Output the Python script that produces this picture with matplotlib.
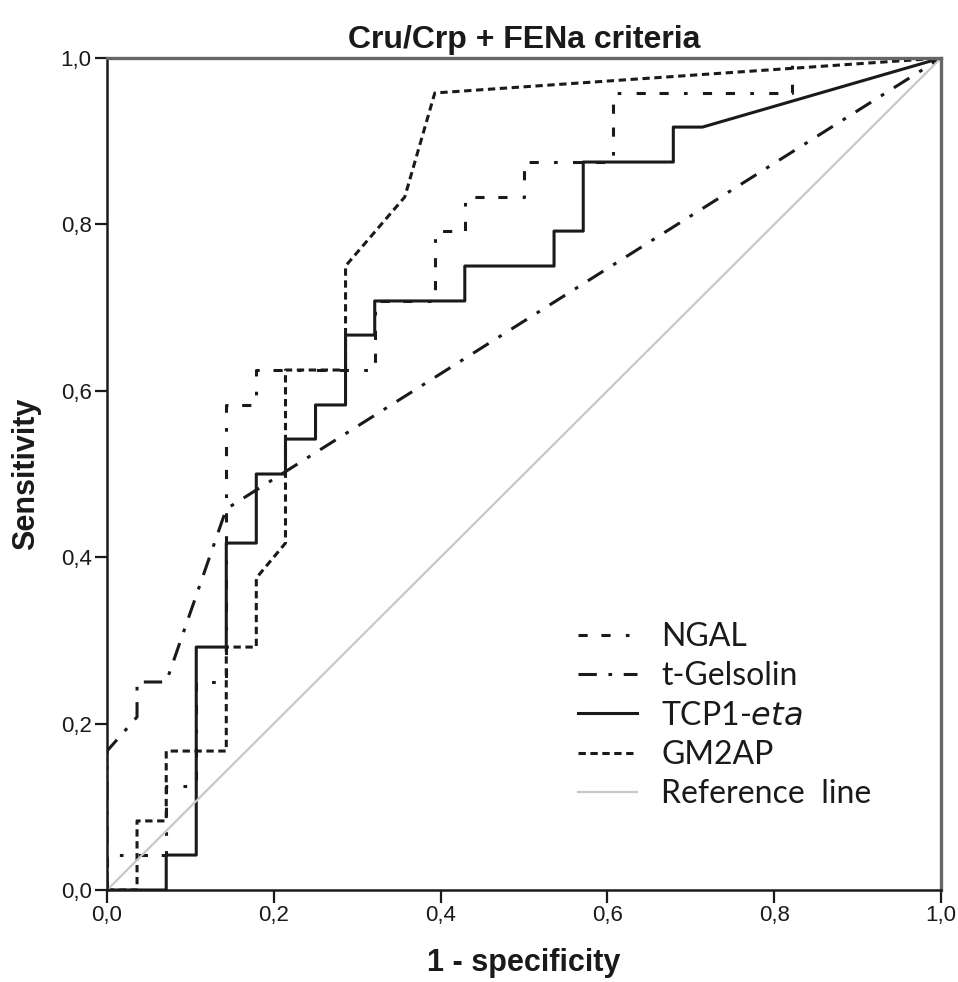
import matplotlib
matplotlib.use("Agg")
import matplotlib.pyplot as plt

# ROC curves (1 - specificity, sensitivity)
ngal_fpr = [0, 0, 0.071, 0.071, 0.107, 0.107, 0.143, 0.143, 0.179, 0.179, 0.321, 0.321,
            0.393, 0.393, 0.429, 0.429, 0.5, 0.5, 0.607, 0.607, 0.821, 0.821, 1.0]
ngal_tpr = [0, 0.042, 0.042, 0.125, 0.125, 0.25, 0.25, 0.583, 0.583, 0.625, 0.625, 0.708,
            0.708, 0.792, 0.792, 0.833, 0.833, 0.875, 0.875, 0.958, 0.958, 1.0, 1.0]

gels_fpr = [0, 0, 0.036, 0.036, 0.071, 0.143, 1.0]
gels_tpr = [0, 0.167, 0.208, 0.25, 0.25, 0.458, 1.0]

tcp_fpr = [0, 0.071, 0.071, 0.107, 0.107, 0.143, 0.143, 0.179, 0.179, 0.214, 0.214, 0.25, 0.25,
           0.286, 0.286, 0.321, 0.321, 0.429, 0.429, 0.536, 0.536, 0.571, 0.571, 0.679, 0.679,
           0.714, 1.0]
tcp_tpr = [0, 0, 0.042, 0.042, 0.292, 0.292, 0.417, 0.417, 0.5, 0.5, 0.542, 0.542, 0.583,
           0.583, 0.667, 0.667, 0.708, 0.708, 0.75, 0.75, 0.792, 0.792, 0.875, 0.875, 0.917,
           0.917, 1.0]

gm2_fpr = [0, 0.036, 0.036, 0.071, 0.071, 0.143, 0.143, 0.179, 0.179, 0.214, 0.214, 0.286,
           0.286, 0.357, 0.393, 1.0]
gm2_tpr = [0, 0, 0.083, 0.083, 0.167, 0.167, 0.292, 0.292, 0.375, 0.417, 0.625, 0.625,
           0.75, 0.833, 0.958, 1.0]

ref_line = [0, 1]
ticks = [0, 0.2, 0.4, 0.6, 0.8, 1.0]
tick_labels = ['0,0', '0,2', '0,4', '0,6', '0,8', '1,0']
legend_labels = ['NGAL', 't-Gelsolin', 'TCP1-$\\it{eta}$', 'GM2AP', 'Reference  line']

plt.rcParams['font.family'] = ['Liberation Sans', 'DejaVu Sans']

fig = plt.figure(figsize=(9.58, 9.82), dpi=100)
ax = fig.add_axes([0.1117, 0.0937, 0.8706, 0.8472])

ink = '#1a1a1a'
lw = 2.2
l1, = ax.plot(ngal_fpr, ngal_tpr, color=ink, lw=lw, dashes=(3, 4.5, 3, 5, 1.2, 5))
l2, = ax.plot(gels_fpr, gels_tpr, color=ink, lw=lw, dashes=(6, 3.8, 1.2, 3.8))
l3, = ax.plot(tcp_fpr, tcp_tpr, color=ink, lw=lw)
l4, = ax.plot(gm2_fpr, gm2_tpr, color=ink, lw=lw, dashes=(2.4, 1.5))
l5, = ax.plot(ref_line, ref_line, color='#c8c8c8', lw=1.6)

ax.set_xlim(0, 1)
ax.set_ylim(0, 1)
ax.set_xticks(ticks)
ax.set_yticks(ticks)
ax.set_xticklabels(tick_labels)
ax.set_yticklabels(tick_labels)
ax.tick_params(direction='out', length=9, width=1.6, labelsize=16, colors=ink, pad=2)
for side in ['left', 'bottom']:
    ax.spines[side].set_linewidth(1.8)
    ax.spines[side].set_color(ink)
for side in ['top', 'right']:
    ax.spines[side].set_linewidth(2.4)
    ax.spines[side].set_color('#666666')

ax.set_title('Cru/Crp + FENa criteria', fontsize=23, fontweight='bold', pad=7, color=ink)
ax.set_xlabel('1 - specificity', fontsize=22, fontweight='bold', labelpad=16, color=ink)
ax.set_ylabel('Sensitivity', fontsize=22, fontweight='bold', labelpad=14, color=ink)

leg = ax.legend([l1, l2, l3, l4, l5], legend_labels,
                loc='upper left', bbox_to_anchor=((578 - 107) / 834, (890 - 622) / 832),
                frameon=False, borderpad=0, borderaxespad=0,
                prop={'family': 'Lato', 'size': 23}, handlelength=1.85,
                handletextpad=0.75, labelspacing=0.29)
for t in leg.get_texts():
    t.set_color(ink)

fig.savefig('out.png', dpi=100)
